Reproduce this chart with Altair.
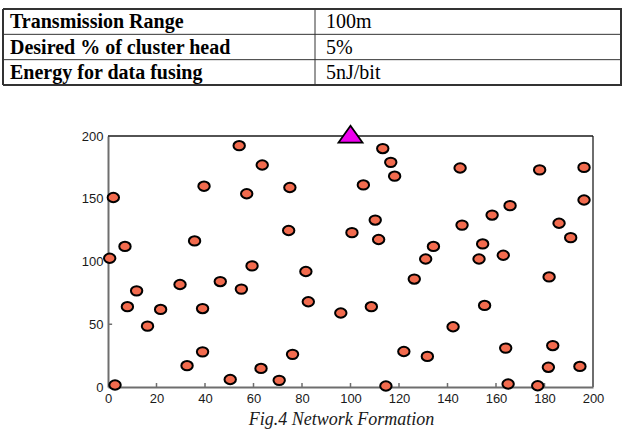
import altair as alt
import pandas as pd

# ---- simulation parameters shown in the table ----
param_names = ["Transmission Range", "Desired % of cluster head", "Energy for data fusing"]
param_values = ["100m", "5%", "5nJ/bit"]

# ---- sensor node positions (m) in the 200 x 200 field ----
node_x = [0.7, 2.2, 2.9, 7.0, 8.0, 11.8, 16.3, 21.7, 29.7, 32.6,
          35.7, 39.6, 39.0, 39.0, 46.3, 50.4, 54.1, 55.0, 57.2, 59.4,
          63.6, 63.1, 70.6, 74.5, 75.0, 76.1, 81.6, 82.6, 96.0, 100.6,
          105.3, 108.6, 110.2, 111.6, 113.3, 114.6, 116.6, 118.2, 122.0, 126.3,
          131.0, 131.7, 134.2, 142.3, 145.2, 146.0, 153.0, 154.5, 155.3, 158.4,
          163.0, 164.0, 165.0, 165.8, 177.2, 178.0, 181.6, 181.9, 183.4, 186.0,
          190.8, 194.6, 196.3, 196.3]
node_y = [102.6, 151.0, 1.6, 112.0, 64.0, 76.6, 48.5, 61.8, 81.7, 17.0,
          116.4, 160.0, 62.5, 28.0, 84.0, 6.0, 192.3, 78.0, 154.0, 96.5,
          176.9, 14.8, 5.3, 124.7, 159.0, 26.0, 92.0, 67.9, 59.0, 123.0,
          161.0, 64.0, 133.0, 117.5, 190.0, 0.8, 179.0, 168.0, 28.3, 86.0,
          102.0, 24.4, 112.0, 48.0, 174.5, 129.0, 102.0, 114.0, 65.0, 137.0,
          105.0, 31.0, 2.4, 144.5, 1.0, 173.0, 15.7, 87.7, 33.0, 130.5,
          119.0, 16.4, 175.0, 149.0]

# ---- base station (sink) ----
sink_x = [100.0]
sink_y = [200.0]

# ---- axis ticks ----
x_ticks = [20, 40, 60, 80, 100, 120, 140, 160, 180]
y_ticks = [50, 100, 150]
x_labels = [0, 20, 40, 60, 80, 100, 120, 140, 160, 180, 200]
y_labels = [0, 50, 100, 150, 200]

caption_text = ["Fig.4 Network Formation"]

nodes = pd.DataFrame({"x": node_x, "y": node_y})
sink = pd.DataFrame({"x": sink_x, "y": sink_y})

SERIF = "Liberation Serif, Times New Roman, serif"
SANS = "Liberation Sans, Arial, sans-serif"


def xs():
    return alt.Scale(domain=[0, 200], range=[108, 593], nice=False, zero=False)


def ys():
    return alt.Scale(domain=[0, 200], range=[387, 136], nice=False, zero=False)


AXIS_GRAY = "#6e6e6e"
LABEL_STYLE = dict(labelFont=SANS, labelFontSize=13, labelColor="#1a1a1a",
                   labelFlush=False, labelOverlap=False, grid=False, ticks=False,
                   title=None, domainColor=AXIS_GRAY, domainWidth=2)

x_axis = alt.Axis(orient="bottom", offset=-43, values=x_labels,
                  labelPadding=5, **LABEL_STYLE)
y_axis = alt.Axis(orient="left", offset=-108, values=y_labels,
                  labelPadding=5, **LABEL_STYLE)

# ellipse-like node marker and flattened triangle for the sink
NODE_SHAPE = "M-1,0A1,0.82,0,1,1,1,0A1,0.82,0,1,1,-1,0Z"
SINK_SHAPE = "M0,-0.85L1,0.55L-1,0.55Z"

# frame: top and right edges of the field
top_edge = alt.Chart(pd.DataFrame({"fx": [0], "fx2": [200], "fy": [200]})).mark_rule(
    color="#1a1a1a", strokeWidth=1.5
).encode(
    x=alt.X("fx:Q", scale=xs(), axis=None),
    x2="fx2:Q",
    y=alt.Y("fy:Q", scale=ys(), axis=None),
)
right_edge = alt.Chart(pd.DataFrame({"fx": [200], "fy": [0], "fy2": [200]})).mark_rule(
    color=AXIS_GRAY, strokeWidth=2
).encode(
    x=alt.X("fx:Q", scale=xs(), axis=None),
    y=alt.Y("fy:Q", scale=ys(), axis=None),
    y2="fy2:Q",
)

# inward tick marks
x_tick_marks = alt.Chart(pd.DataFrame({"t": x_ticks, "t0": 0.0, "t1": 3.2})).mark_rule(
    color=AXIS_GRAY, strokeWidth=1.5
).encode(
    x=alt.X("t:Q", scale=xs(), axis=None),
    y=alt.Y("t0:Q", scale=ys(), axis=None),
    y2="t1:Q",
)
y_tick_marks = alt.Chart(pd.DataFrame({"t": y_ticks, "t0": 0.0, "t1": 1.7})).mark_rule(
    color=AXIS_GRAY, strokeWidth=1.5
).encode(
    y=alt.Y("t:Q", scale=ys(), axis=None),
    x=alt.X("t0:Q", scale=xs(), axis=None),
    x2="t1:Q",
)

node_marks = alt.Chart(nodes).mark_point(
    shape=NODE_SHAPE, size=130, filled=True, fill="#F26B4E", fillOpacity=1,
    stroke="#000000", strokeWidth=2, strokeOpacity=1, opacity=1
).encode(
    x=alt.X("x:Q", scale=xs(), axis=x_axis),
    y=alt.Y("y:Q", scale=ys(), axis=y_axis),
)

sink_mark = alt.Chart(sink).mark_point(
    shape=SINK_SHAPE, size=576, filled=True, fill="#EE00EE", fillOpacity=1,
    stroke="#000000", strokeWidth=1.8, strokeOpacity=1, opacity=1
).encode(
    x=alt.X("x:Q", scale=xs(), axis=None),
    y=alt.Y("y:Q", scale=ys(), axis=None),
)

# ---- parameter table ----
def ts():
    return alt.Scale(domain=[0, 3], range=[9, 85], nice=False, zero=False)


rows = pd.DataFrame({
    "name": param_names,
    "value": param_values,
    "bottom": [i + 1 for i in range(len(param_names))],
})
hlines = pd.DataFrame({"ry": [0, 1, 2, 3], "w": [2.0, 1.0, 1.0, 2.0]})
vlines = pd.DataFrame({"ry": [0], "ry2": [3]})

table_h = alt.Chart(hlines).mark_rule(color="#333333").encode(
    y=alt.Y("ry:Q", scale=ts(), axis=None),
    x=alt.value(3), x2=alt.value(622),
    strokeWidth=alt.StrokeWidth("w:Q", scale=None, legend=None),
)
table_v = [
    alt.Chart(vlines).mark_rule(color="#333333", strokeWidth=w).encode(
        y=alt.Y("ry:Q", scale=ts(), axis=None), y2="ry2:Q", x=alt.value(px)
    )
    for px, w in [(3, 2.0), (315, 1.0), (621, 2.0)]
]
table_names = alt.Chart(rows).mark_text(
    align="left", baseline="alphabetic", dy=-6, font=SERIF,
    fontWeight="bold", fontSize=20, color="#000000"
).encode(
    y=alt.Y("bottom:Q", scale=ts(), axis=None), x=alt.value(10), text="name:N"
)
table_values = alt.Chart(rows).mark_text(
    align="left", baseline="alphabetic", dy=-6, font=SERIF,
    fontSize=20, color="#000000"
).encode(
    y=alt.Y("bottom:Q", scale=ts(), axis=None), x=alt.value(326), text="value:N"
)

caption = alt.Chart(pd.DataFrame({"caption": caption_text})).mark_text(
    x=341.5, y=425, align="center", baseline="alphabetic", font=SERIF,
    fontStyle="italic", fontSize=18, color="#1a1a1a"
).encode(text="caption:N")

chart = alt.layer(
    table_h, *table_v, table_names, table_values,
    right_edge, top_edge, x_tick_marks, y_tick_marks, node_marks, sink_mark,
    caption,
).resolve_scale(
    x="independent", y="independent"
).properties(
    width=624, height=430, padding=0,
    autosize=alt.AutoSizeParams(type="none"),
).configure_view(stroke=None)

chart.save("out.html", embed_options={"renderer": "svg", "actions": False})
